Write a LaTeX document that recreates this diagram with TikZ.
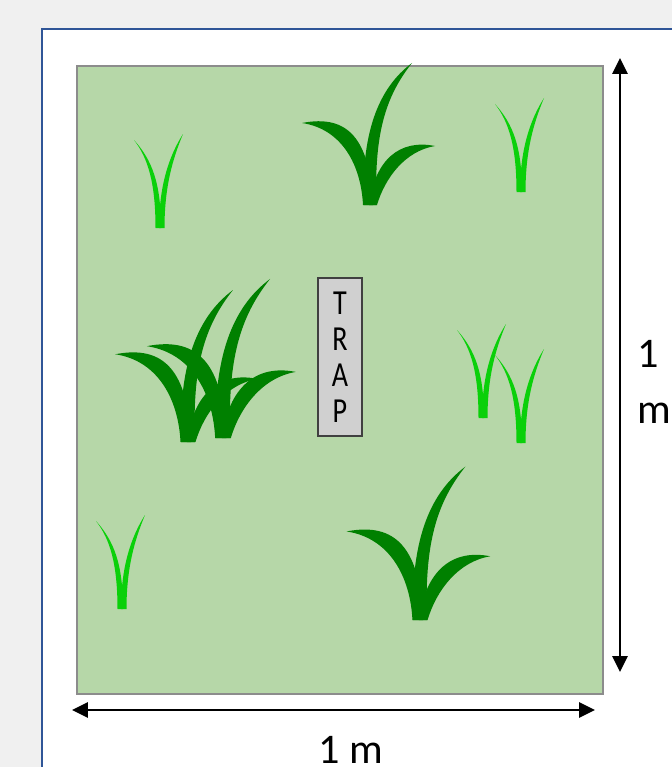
\documentclass[tikz,border=0pt]{standalone}
\usepackage{fontspec}
\setmainfont{Carlito}
\newfontfamily\trapfont[FakeStretch=0.8]{Carlito}
\usetikzlibrary{arrows.meta}

\definecolor{pagegray}{HTML}{F0F0F0}
\definecolor{frameblue}{HTML}{2F5597}
\definecolor{meadow}{HTML}{B6D7A8}
\definecolor{bladedark}{RGB}{0,128,0}
\definecolor{bladelight}{RGB}{10,208,10}
\definecolor{trapgray}{HTML}{D0D0D0}

\tikzset{
  % big tuft: left, middle and right blade, base at the origin
  tuft/.pic={
    \fill[bladedark] (-7,0) .. controls (-9,-40) and (-28,-76) .. (-68,-82)
      .. controls (-22,-91) and (0,-66) .. (3,0) -- cycle;
    \fill[bladedark] (-6.5,0) .. controls (-8.5,-70) and (7,-116) .. (42,-142)
      .. controls (15,-108) and (4,-70) .. (6.5,0) -- cycle;
    \fill[bladedark] (-1,0) .. controls (5,-46) and (30,-66) .. (65,-59)
      .. controls (35,-54) and (15,-27) .. (7,0) -- cycle;
  },
  % small two-blade sprout
  sprout/.pic={
    \fill[bladelight] (-4.5,0) .. controls (-4.5,-45) and (-12,-70) .. (-26,-88)
      .. controls (-8,-68) and (1,-45) .. (1,0) -- cycle;
    \fill[bladelight] (-1,0) .. controls (-1,-42) and (9,-72) .. (23,-94)
      .. controls (13,-70) and (4.5,-42) .. (4.5,0) -- cycle;
  }
}

\begin{document}
\begin{tikzpicture}[x=0.02cm,y=-0.02cm,>={Triangle[length=9pt,width=8.5pt]},
  dim/.style={<->,line width=1.4pt},
  dimlabel/.style={font=\fontsize{24}{32}\selectfont,inner sep=0pt},
  trapbox/.style={draw=black!75,line width=0.8pt,fill=trapgray,
    minimum width=0.88cm,minimum height=3.16cm,inner sep=0pt,align=center,
    font=\trapfont\fontsize{20}{20.4}\selectfont}]

\useasboundingbox (0,0) rectangle (672,767);
\clip (0,0) rectangle (672,767);
\fill[pagegray] (0,0) rectangle (672,767);
\filldraw[fill=white,draw=frameblue,line width=1.5pt] (42,29) rectangle (720,820);

% the plot
\filldraw[fill=meadow,draw=black!45,line width=1pt] (77,66) rectangle (603,694);

% grass
\pic at (370,205) {tuft};
\pic[scale=1.08] at (420,620) {tuft};
\pic[scale=1.07] at (188,442) {tuft};
\pic[scale=1.12] at (223,438) {tuft};

\pic at (160,228) {sprout};
\pic at (521,192) {sprout};
\pic at (122,609) {sprout};
\pic at (483,418) {sprout};
\pic at (521,443) {sprout};

\node[trapbox] (trap) at (340,357) {T\\R\\A\\P};

% dimensions
\coordinate (vtop) at (620,58);
\coordinate (vbot) at (620,672);
\coordinate (hleft) at (72,710);
\coordinate (hright) at (595,710);

\draw[dim] (vtop)--(vbot);
\draw[dim] (hleft)--(hright);

\node[dimlabel,align=left,anchor=west] (sidelabel) at (637,382) {1\\m};
\node[dimlabel,anchor=base] (baselabel) at (351,763) {1 m};

\end{tikzpicture}
\end{document}
